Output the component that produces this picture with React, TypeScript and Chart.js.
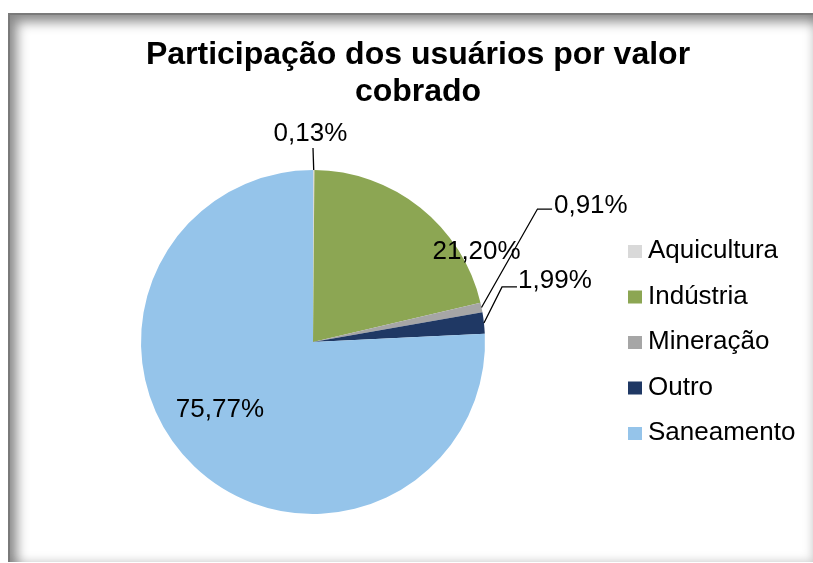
import React, { useEffect, useRef } from "react";
import { Chart, registerables } from "chart.js";

Chart.register(...registerables);

const titleLines = ["Participação dos usuários por valor", "cobrado"];
const categories = ["Aquicultura", "Indústria", "Mineração", "Outro", "Saneamento"];
const shares = [0.13, 21.2, 0.91, 1.99, 75.77];
const valueLabels = ["0,13%", "21,20%", "0,91%", "1,99%", "75,77%"];
const colors = ["#D9D9D9", "#8CA653", "#A6A6A6", "#1F3864", "#95C4EA"];

// label placement, in units of pie radius relative to pie centre
type LabelCfg = { x: number; y: number; align: CanvasTextAlign; line?: [number, number][] };
const labelCfg: LabelCfg[] = [
  { x: -0.015, y: -1.169, align: "center", line: [[0, -1.128]] },
  { x: 0.951, y: -0.483, align: "center" },
  { x: 1.401, y: -0.75, align: "left", line: [[1.305, -0.773], [1.39, -0.773]] },
  { x: 1.192, y: -0.314, align: "left", line: [[1.099, -0.32], [1.186, -0.32]] },
  { x: -0.541, y: 0.436, align: "center" },
];

const FONT = "'Liberation Sans', Arial, sans-serif";

const overlayPlugin = {
  id: "overlay",
  afterDraw(chart: any) {
    const ctx: CanvasRenderingContext2D = chart.ctx;
    const meta = chart.getDatasetMeta(0);
    const arcs = meta.data;
    if (!arcs.length) return;
    const cx = arcs[0].x;
    const cy = arcs[0].y;
    const R = arcs[0].outerRadius;
    ctx.save();
    // title
    ctx.fillStyle = "#000";
    ctx.font = `bold 32px ${FONT}`;
    ctx.textAlign = "center";
    ctx.textBaseline = "alphabetic";
    titleLines.forEach((t, i) => ctx.fillText(t, 418, 64 + i * 37));

    // data labels
    ctx.font = `26px ${FONT}`;
    ctx.strokeStyle = "#000";
    ctx.lineWidth = 1.3;
    arcs.forEach((arc: any, i: number) => {
      const cfg = labelCfg[i];
      if (cfg.line) {
        const mid = (arc.startAngle + arc.endAngle) / 2;
        ctx.beginPath();
        ctx.moveTo(cx + Math.cos(mid) * R, cy + Math.sin(mid) * R);
        cfg.line.forEach(([px, py]) => ctx.lineTo(cx + px * R, cy + py * R));
        ctx.stroke();
      }
      ctx.textAlign = cfg.align;
      ctx.fillText(valueLabels[i], cx + cfg.x * R, cy + cfg.y * R);
    });

    // legend
    ctx.textAlign = "left";
    categories.forEach((c, i) => {
      const base = 258 + i * 45.5;
      ctx.fillStyle = colors[i];
      ctx.fillRect(628, base - 13, 14, 13);
      ctx.fillStyle = "#000";
      ctx.fillText(c, 648, base);
    });
    ctx.restore();
  },
};

export default function App() {
  const ref = useRef<HTMLCanvasElement | null>(null);
  useEffect(() => {
    if (!ref.current) return;
    const chart = new Chart(ref.current, {
      type: "pie",
      data: {
        labels: categories,
        datasets: [
          {
            data: shares,
            backgroundColor: colors,
            borderWidth: 0,
          },
        ],
      },
      options: {
        animation: false,
        responsive: false,
        maintainAspectRatio: false,
        layout: { padding: { left: 141, right: 328, top: 170, bottom: 49 } },
        plugins: {
          legend: { display: false },
          title: { display: false },
          tooltip: { enabled: false },
        },
      },
      plugins: [overlayPlugin],
    });
    return () => chart.destroy();
  }, []);

  return (
    <div style={{ position: "fixed", left: 0, top: 0, width: 813, height: 563, background: "#fff" }}>
      <div
        style={{
          position: "absolute",
          left: 8,
          top: 13,
          width: 805,
          height: 549,
          boxSizing: "border-box",
          borderLeft: "2px solid #7a7a7a",
          borderTop: "2px solid #7a7a7a",
          boxShadow:
            "inset 7px 7px 12px rgba(0,0,0,0.45), inset -3px -3px 8px rgba(0,0,0,0.1)",
        }}
      />
      <canvas
        ref={ref}
        width={813}
        height={563}
        style={{ position: "absolute", left: 0, top: 0, width: 813, height: 563 }}
      />
    </div>
  );
}
